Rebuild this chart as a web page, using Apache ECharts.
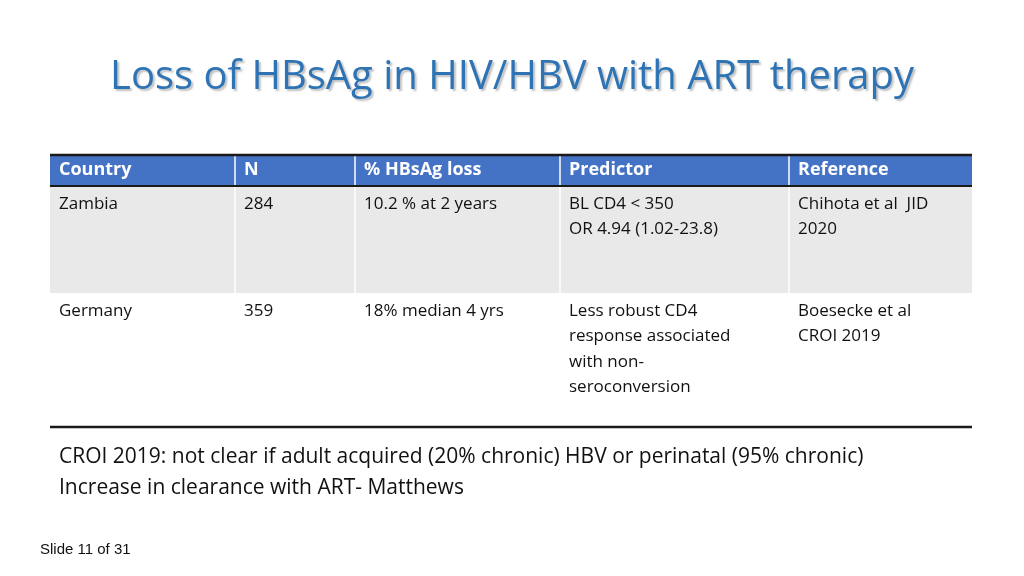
<!DOCTYPE html>
<html><head><meta charset="utf-8">
<script src="https://cdn.jsdelivr.net/npm/echarts@6/dist/echarts.min.js"></script>
<style>html,body{margin:0;background:#fff}#main{width:1024px;height:576px}</style>
</head><body><div id="main"></div>
<script>
// slide content
var title = 'Loss of HBsAg in HIV/HBV with ART therapy';
var headers = ['Country', 'N', '% HBsAg loss', 'Predictor', 'Reference'];
var rows = [
  ['Zambia', '284', '10.2 % at 2 years', 'BL CD4 < 350\nOR 4.94 (1.02-23.8)', 'Chihota et al  JID\n2020'],
  ['Germany', '359', '18% median 4 yrs', 'Less robust CD4\nresponse associated\nwith non-\nseroconversion', 'Boesecke et al\nCROI 2019']
];
var notes = ['CROI 2019: not clear if adult acquired (20% chronic) HBV or perinatal (95% chronic)', 'Increase in clearance with ART- Matthews'];
var footer = 'Slide 11 of 31';

var colX = [50, 235, 355, 560, 789, 972];
var rowY = [155, 186, 293, 427];
var font = '"Open Sans", "Noto Sans", sans-serif';

var g = [];
g.push({type: 'text', left: 'center', top: 58, style: {text: title, fill: '#2E74B5', font: '40px ' + font,
  textShadowColor: 'rgba(0,0,0,0.25)', textShadowOffsetX: 2, textShadowOffsetY: 2, textShadowBlur: 2}});
g.push({type: 'rect', shape: {x: colX[0], y: rowY[0], width: colX[5] - colX[0], height: rowY[1] - rowY[0]}, style: {fill: '#4472C4'}});
g.push({type: 'rect', shape: {x: colX[0], y: rowY[1], width: colX[5] - colX[0], height: rowY[2] - rowY[1]}, style: {fill: '#E9E9E9'}});
for (var c = 1; c < 5; c++) {
  g.push({type: 'line', shape: {x1: colX[c], y1: rowY[0], x2: colX[c], y2: rowY[2]}, style: {stroke: '#fff', lineWidth: 1.5}});
}
g.push({type: 'line', shape: {x1: colX[0], y1: rowY[0], x2: colX[5], y2: rowY[0]}, style: {stroke: '#1a1a1a', lineWidth: 2.5}});
g.push({type: 'line', shape: {x1: colX[0], y1: rowY[1], x2: colX[5], y2: rowY[1]}, style: {stroke: '#1a1a1a', lineWidth: 2}});
g.push({type: 'line', shape: {x1: colX[0], y1: rowY[3], x2: colX[5], y2: rowY[3]}, style: {stroke: '#1a1a1a', lineWidth: 2.5}});
headers.forEach(function (h, i) {
  g.push({type: 'text', x: colX[i] + 9, y: rowY[0] + 6, style: {text: h, fill: '#fff', font: 'bold 18px ' + font}});
});
rows.forEach(function (r, ri) {
  r.forEach(function (t, i) {
    g.push({type: 'text', x: colX[i] + 9, y: rowY[ri + 1] + 5, style: {text: t, fill: '#111', font: '17px ' + font, lineHeight: 25.5}});
  });
});
notes.forEach(function (t, i) {
  g.push({type: 'text', x: 59, y: 447 + i * 31, style: {text: t, fill: '#111', font: '21px ' + font}});
});
g.push({type: 'text', x: 40, y: 542, style: {text: footer, fill: '#111', font: '15px "Liberation Sans", Arial, sans-serif'}});

var chart = echarts.init(document.getElementById('main'));
chart.setOption({animation: false, graphic: g});
</script></body></html>
